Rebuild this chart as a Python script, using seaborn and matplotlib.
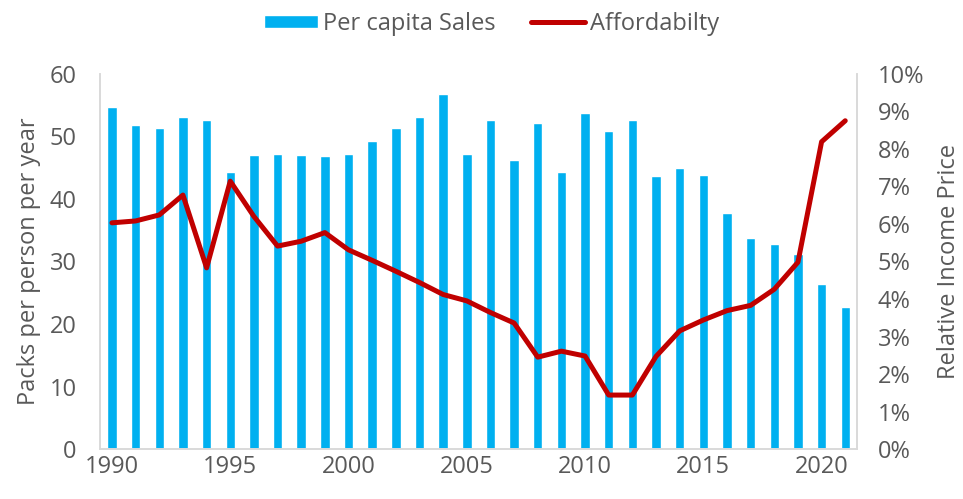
import numpy as np
import pandas as pd
import matplotlib
matplotlib.use("Agg")
import matplotlib.pyplot as plt
import seaborn as sns
from matplotlib.ticker import PercentFormatter

# ── Data ──────────────────────────────────────────────────────────────────────
YEARS = list(range(1990, 2022))
SALES = [54.7, 51.8, 51.4, 53.1, 52.6, 44.3, 47.0, 47.2, 47.0, 46.8,
         47.2, 49.3, 51.4, 53.1, 56.8, 47.2, 52.6, 46.3, 52.2, 44.3,
         53.8, 50.9, 52.6, 43.7, 45.0, 43.9, 37.7, 33.8, 32.8, 31.2,
         26.4, 22.7]
AFFORD = [6.03, 6.08, 6.24, 6.77, 4.83, 7.14, 6.20, 5.41, 5.54, 5.77,
          5.31, 5.03, 4.74, 4.44, 4.12, 3.95, 3.64, 3.36, 2.45, 2.61,
          2.48, 1.44, 1.44, 2.47, 3.15, 3.44, 3.69, 3.83, 4.26, 4.98,
          8.19, 8.75]
YEAR_TICKS = [1990, 1995, 2000, 2005, 2010, 2015, 2020]

BAR_C = "#00B0F0"
LINE_C = "#C00000"
TXT_C = "#595959"
SPINE_C = "#D9D9D9"
FS = 17

df = pd.DataFrame({"year": [str(y) for y in YEARS], "sales": SALES, "afford": AFFORD})
df["pos"] = np.arange(len(df))

sns.set_theme(style="white")
plt.rcParams["font.family"] = ["Open Sans", "DejaVu Sans"]

fig, ax = plt.subplots(figsize=(9.63, 4.99), dpi=100)
fig.subplots_adjust(left=0.104, right=0.89, top=0.852, bottom=0.1)

sns.barplot(data=df, x="year", y="sales", color=BAR_C, width=0.4,
            saturation=1, ax=ax, label="Per capita Sales")
ax2 = ax.twinx()
sns.lineplot(data=df, x="pos", y="afford", color=LINE_C, linewidth=3.6,
             ax=ax2, label="Affordabilty")

ax.set_ylim(0, 60)
ax.set_yticks(range(0, 61, 10))
ax2.set_ylim(0, 10)
ax2.set_yticks(range(0, 11, 1))
ax2.yaxis.set_major_formatter(PercentFormatter(decimals=0))
ax.set_xlim(-0.5, len(df) - 0.5)
ax.set_xticks([YEARS.index(y) for y in YEAR_TICKS])
ax.set_xticklabels([str(y) for y in YEAR_TICKS])

ax.set_xlabel("")
ax.set_ylabel("Packs per person per year", fontsize=FS, color=TXT_C, labelpad=6)
ax2.set_xlabel("")
ax2.set_ylabel("Relative Income Price", fontsize=FS, color=TXT_C, labelpad=9)

for a in (ax, ax2):
    a.tick_params(axis="both", length=0, labelsize=FS, colors=TXT_C)
    a.spines["top"].set_visible(False)
    for side in ("left", "right", "bottom"):
        a.spines[side].set_color(SPINE_C)
        a.spines[side].set_linewidth(1.2)
ax.tick_params(axis="y", pad=17)
ax2.tick_params(axis="y", pad=15)
ax.tick_params(axis="x", pad=4)

# combined legend on top
h1, l1 = ax.get_legend_handles_labels()
h2, l2 = ax2.get_legend_handles_labels()
if ax2.get_legend():
    ax2.get_legend().remove()
leg = ax.legend(h1 + h2, l1 + l2, loc="lower center", bbox_to_anchor=(0.517, 1.045),
                ncol=2, frameon=False, fontsize=FS, handlelength=2.3,
                handleheight=0.45, handletextpad=0.2, columnspacing=1.5)
for t in leg.get_texts():
    t.set_color(TXT_C)

fig.savefig("out.png", dpi=100)
